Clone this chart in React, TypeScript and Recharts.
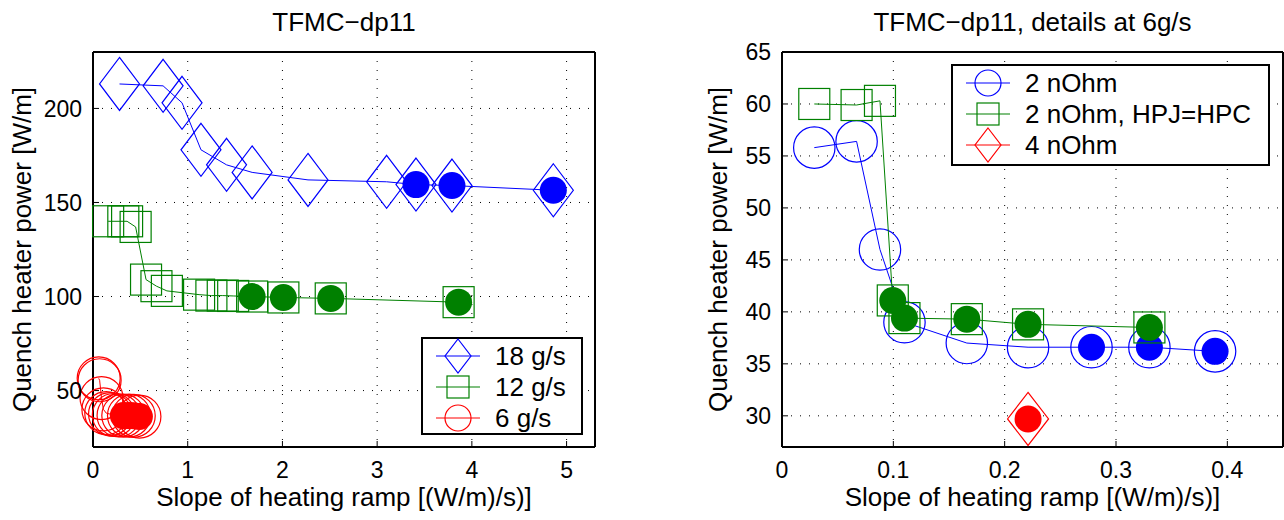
import { ScatterChart, Scatter, XAxis, YAxis, CartesianGrid } from 'recharts';

const FONT = '"Liberation Sans", Arial, Helvetica, sans-serif';
const BLUE = '#0000ff';
const GREEN = '#008000';
const RED = '#ff0000';

// left panel: TFMC-dp11, all mass flows
const leftXTicks = [0, 1, 2, 3, 4, 5];
const leftYTicks = [50, 100, 150, 200];

const flow18X = [0.28, 0.74, 0.94, 1.14, 1.41, 1.68, 2.27, 3.1, 3.41, 3.79, 4.86];
const flow18Y = [213, 212, 203, 178, 170, 166, 162, 161, 159.5, 159, 156.5];
const flow18FilledX = [3.41, 3.79, 4.86];
const flow18FilledY = [159.5, 159, 156.5];

const flow12X = [0.16, 0.32, 0.36, 0.45, 0.56, 0.67, 0.78, 1.12, 1.25, 1.37, 1.48, 1.68, 2.01, 2.51, 3.86];
const flow12Y = [140, 140, 140, 137, 109, 105.5, 103, 101, 100.5, 100.5, 100.3, 100, 99.5, 99, 97];
const flow12FilledX = [1.68, 2.01, 2.51, 3.86];
const flow12FilledY = [100, 99.5, 99, 97];

const flow6X = [0.06, 0.07, 0.09, 0.11, 0.14, 0.18, 0.22, 0.27, 0.32, 0.38, 0.43, 0.49];
const flow6Y = [56.5, 55.5, 46, 40, 38, 37.5, 37, 36.8, 36.7, 36.7, 36.6, 36.2];
const flow6FilledX = [0.32, 0.38, 0.43, 0.49];
const flow6FilledY = [36.7, 36.7, 36.6, 36.2];

// right panel: details at 6 g/s
const rightXTicks = [0, 0.1, 0.2, 0.3, 0.4];
const rightYTicks = [30, 35, 40, 45, 50, 55, 60, 65];

const ohm2X = [0.029, 0.067, 0.088, 0.11, 0.166, 0.221, 0.278, 0.33, 0.389];
const ohm2Y = [55.8, 56.4, 46, 39, 37, 36.6, 36.6, 36.6, 36.2];
const ohm2FilledX = [0.278, 0.33, 0.389];
const ohm2FilledY = [36.6, 36.6, 36.2];

const hpcX = [0.029, 0.067, 0.088, 0.0995, 0.11, 0.166, 0.221, 0.33];
const hpcY = [60, 59.9, 60.3, 41.1, 39.4, 39.3, 38.8, 38.5];
const hpcFilledX = [0.0995, 0.11, 0.166, 0.221, 0.33];
const hpcFilledY = [41.1, 39.4, 39.3, 38.8, 38.5];

const ohm4X = [0.221];
const ohm4Y = [29.7];

const pts = (xs: number[], ys: number[]) => xs.map((x, i) => ({ x, y: ys[i] }));

// marker shapes (matlab style, big)
const diamond = (color: string, w = 20, h = 26.5) => (p: any) => (
  <path
    d={`M${p.cx},${p.cy - h}L${p.cx + w},${p.cy}L${p.cx},${p.cy + h}L${p.cx - w},${p.cy}Z`}
    fill="none"
    stroke={color}
    strokeWidth={1.2}
  />
);
const square = (color: string, s = 15.5) => (p: any) => (
  <rect x={p.cx - s} y={p.cy - s} width={2 * s} height={2 * s} fill="none" stroke={color} strokeWidth={1.2} />
);
const ring = (color: string, r = 21) => (p: any) => (
  <circle cx={p.cx} cy={p.cy} r={r} fill="none" stroke={color} strokeWidth={1.2} />
);
const dot = (color: string, r = 13.5) => (p: any) => <circle cx={p.cx} cy={p.cy} r={r} fill={color} />;
const nothing = () => <g />;

type Row = { label: string; color: string; marker: 'diamond' | 'square' | 'circle' };

function LegendBox({ x, y, w, h, rows }: { x: number; y: number; w: number; h: number; rows: Row[] }) {
  return (
    <svg style={{ position: 'absolute', left: x, top: y }} width={w} height={h}>
      <rect x={1} y={1} width={w - 2} height={h - 2} fill="#fff" stroke="#000" strokeWidth={2} />
      {rows.map((r, i) => {
        const cy = 19 + i * 31;
        const cx = 37;
        return (
          <g key={r.label}>
            <line x1={15} x2={59} y1={cy} y2={cy} stroke={r.color} strokeWidth={1.2} />
            {r.marker === 'diamond' && (
              <path d={`M${cx},${cy - 17}L${cx + 13},${cy}L${cx},${cy + 17}L${cx - 13},${cy}Z`} fill="none" stroke={r.color} strokeWidth={1.2} />
            )}
            {r.marker === 'square' && (
              <rect x={cx - 11} y={cy - 11} width={22} height={22} fill="none" stroke={r.color} strokeWidth={1.2} />
            )}
            {r.marker === 'circle' && <circle cx={cx} cy={cy} r={13} fill="none" stroke={r.color} strokeWidth={1.2} />}
            <text x={74} y={cy + 9} fontSize={26} fill="#000">
              {r.label}
            </text>
          </g>
        );
      })}
    </svg>
  );
}

const tickStyle = { fill: '#000', fontSize: 23 };
const axisLine = { stroke: '#000', strokeWidth: 2 };
const tickLine = { stroke: '#000', strokeWidth: 1 };

export default function App() {
  return (
    <div style={{ position: 'absolute', left: 0, top: 0, width: 1284, height: 520, background: '#fff', fontFamily: FONT }}>
      <div style={{ position: 'absolute', left: 0, top: 0 }}>
        <ScatterChart width={642} height={520} margin={{ top: 51, right: 46, bottom: 43, left: 13 }}>
          <CartesianGrid stroke="#000" strokeDasharray="1 8" />
          <XAxis
            type="number"
            dataKey="x"
            domain={[0, 5.3]}
            ticks={leftXTicks}
            height={30}
            tick={tickStyle}
            tickSize={-6}
            tickMargin={21}
            axisLine={axisLine}
            tickLine={tickLine}
            label={{ value: 'Slope of heating ramp [(W/m)/s)]', position: 'bottom', offset: 11, fontSize: 26, fill: '#000' }}
          />
          <XAxis
            xAxisId="top"
            orientation="top"
            type="number"
            dataKey="x"
            domain={[0, 5.3]}
            ticks={leftXTicks}
            height={1}
            tick={false}
            tickSize={-6}
            axisLine={axisLine}
            tickLine={tickLine}
            label={{ value: 'TFMC\u2212dp11', position: 'top', offset: 20, fontSize: 26, fill: '#000' }}
          />
          <YAxis
            type="number"
            dataKey="y"
            domain={[20, 230]}
            ticks={leftYTicks}
            width={80}
            tick={tickStyle}
            tickSize={-6}
            tickMargin={17}
            axisLine={axisLine}
            tickLine={tickLine}
            label={{ value: 'Quench heater power [W/m]', angle: -90, position: 'insideLeft', offset: 9, fontSize: 26, fill: '#000', style: { textAnchor: 'middle' } }}
          />
          <YAxis
            yAxisId="right"
            orientation="right"
            type="number"
            dataKey="y"
            domain={[20, 230]}
            ticks={leftYTicks}
            width={1}
            tick={false}
            tickSize={-6}
            axisLine={axisLine}
            tickLine={tickLine}
          />
          <Scatter data={pts(flow18X, flow18Y)} line={{ stroke: BLUE, strokeWidth: 1 }} lineType="joint" shape={diamond(BLUE)} isAnimationActive={false} />
          <Scatter data={pts(flow18FilledX, flow18FilledY)} shape={dot(BLUE)} isAnimationActive={false} />
          <Scatter data={pts(flow12X, flow12Y)} line={{ stroke: GREEN, strokeWidth: 1 }} lineType="joint" shape={square(GREEN)} isAnimationActive={false} />
          <Scatter data={pts(flow12FilledX, flow12FilledY)} shape={dot(GREEN)} isAnimationActive={false} />
          <Scatter data={pts(flow6X, flow6Y)} line={{ stroke: RED, strokeWidth: 1 }} lineType="joint" shape={ring(RED, 21.5)} isAnimationActive={false} />
          <Scatter data={pts(flow6FilledX, flow6FilledY)} shape={dot(RED)} isAnimationActive={false} />
          {/* binds the top/right frame axes so they get drawn */}
          <Scatter xAxisId="top" yAxisId="right" data={pts(flow6FilledX, flow6FilledY)} shape={nothing} isAnimationActive={false} />
        </ScatterChart>
      </div>

      <div style={{ position: 'absolute', left: 642, top: 0 }}>
        <ScatterChart width={642} height={520} margin={{ top: 51, right: 0, bottom: 43, left: 60 }}>
          <CartesianGrid stroke="#000" strokeDasharray="1 8" />
          <XAxis
            type="number"
            dataKey="x"
            domain={[0, 0.45]}
            ticks={rightXTicks}
            height={30}
            tick={tickStyle}
            tickSize={-6}
            tickMargin={21}
            axisLine={axisLine}
            tickLine={tickLine}
            label={{ value: 'Slope of heating ramp [(W/m)/s)]', position: 'bottom', offset: 11, fontSize: 26, fill: '#000' }}
          />
          <XAxis
            xAxisId="top"
            orientation="top"
            type="number"
            dataKey="x"
            domain={[0, 0.45]}
            ticks={rightXTicks}
            height={1}
            tick={false}
            tickSize={-6}
            axisLine={axisLine}
            tickLine={tickLine}
            label={{ value: 'TFMC\u2212dp11, details at 6g/s', position: 'top', offset: 20, fontSize: 26, fill: '#000' }}
          />
          <YAxis
            type="number"
            dataKey="y"
            domain={[27, 65]}
            ticks={rightYTicks}
            width={80}
            tick={tickStyle}
            tickSize={-6}
            tickMargin={17}
            axisLine={axisLine}
            tickLine={tickLine}
            label={{ value: 'Quench heater power [W/m]', angle: -90, position: 'insideLeft', offset: 16, fontSize: 26, fill: '#000', style: { textAnchor: 'middle' } }}
          />
          <YAxis
            yAxisId="right"
            orientation="right"
            type="number"
            dataKey="y"
            domain={[27, 65]}
            ticks={rightYTicks}
            width={1}
            tick={false}
            tickSize={-6}
            axisLine={axisLine}
            tickLine={tickLine}
          />
          <Scatter data={pts(ohm2X, ohm2Y)} line={{ stroke: BLUE, strokeWidth: 1 }} lineType="joint" shape={ring(BLUE, 20.7)} isAnimationActive={false} />
          <Scatter data={pts(ohm2FilledX, ohm2FilledY)} shape={dot(BLUE)} isAnimationActive={false} />
          <Scatter data={pts(hpcX, hpcY)} line={{ stroke: GREEN, strokeWidth: 1 }} lineType="joint" shape={square(GREEN)} isAnimationActive={false} />
          <Scatter data={pts(hpcFilledX, hpcFilledY)} shape={dot(GREEN)} isAnimationActive={false} />
          <Scatter data={pts(ohm4X, ohm4Y)} shape={diamond(RED, 20.5, 26.5)} isAnimationActive={false} />
          <Scatter data={pts(ohm4X, ohm4Y)} shape={dot(RED)} isAnimationActive={false} />
          <Scatter xAxisId="top" yAxisId="right" data={pts(ohm4X, ohm4Y)} shape={nothing} isAnimationActive={false} />
        </ScatterChart>
      </div>

      <LegendBox
        x={421}
        y={337}
        w={162}
        h={98}
        rows={[
          { label: '18 g/s', color: BLUE, marker: 'diamond' },
          { label: '12 g/s', color: GREEN, marker: 'square' },
          { label: '6 g/s', color: RED, marker: 'circle' },
        ]}
      />
      <LegendBox
        x={951}
        y={64}
        w={319}
        h={102}
        rows={[
          { label: '2 nOhm', color: BLUE, marker: 'circle' },
          { label: '2 nOhm, HPJ=HPC', color: GREEN, marker: 'square' },
          { label: '4 nOhm', color: RED, marker: 'diamond' },
        ]}
      />
    </div>
  );
}
